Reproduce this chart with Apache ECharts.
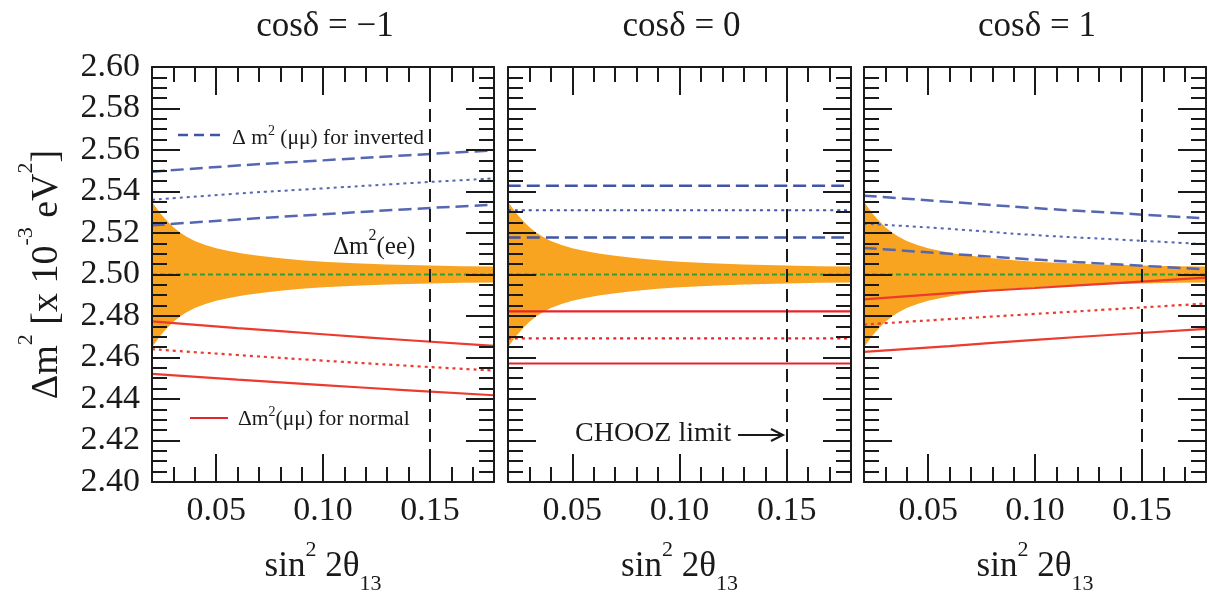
<!DOCTYPE html>
<html><head><meta charset="utf-8">
<script src="https://cdn.jsdelivr.net/npm/echarts@6/dist/echarts.min.js"></script>
<style>html,body{margin:0;padding:0;background:#fff}#c{width:1209px;height:600px}</style>
</head><body><div id="c"></div>
<script>
// ---------------- data ----------------
const panelTitles = ['cosδ = −1', 'cosδ = 0', 'cosδ = 1'];
const xMin = 0.02, xMax = 0.18;
const yMin = 2.40, yMax = 2.60;
const xTickValues = [0.05, 0.10, 0.15];
const choozLimit = 0.15;
const centralValue = 2.50;

// Δm²(ee) uncertainty band (half width around 2.50), same in all panels
const bandX    = [0.020, 0.022, 0.024, 0.026, 0.028, 0.030, 0.033, 0.036, 0.040, 0.045, 0.050, 0.056, 0.063, 0.070, 0.080, 0.090, 0.100, 0.115, 0.130, 0.150, 0.165, 0.180];
const bandHalf = [0.0350, 0.0322, 0.0294, 0.0270, 0.0248, 0.0228, 0.0204, 0.0183, 0.0162, 0.0142, 0.0127, 0.0113, 0.0100, 0.0090, 0.0078, 0.0069, 0.0062, 0.0054, 0.0048, 0.0043, 0.0040, 0.0038];

const lineX = [0.02, 0.06, 0.10, 0.14, 0.18];
// cosδ = −1
const invHighM = [2.5495, 2.5525, 2.5550, 2.5575, 2.5598];
const invMidM  = [2.5360, 2.5390, 2.5415, 2.5440, 2.5463];
const invLowM  = [2.5237, 2.5265, 2.5290, 2.5315, 2.5336];
const norHighM = [2.4774, 2.4742, 2.4712, 2.4683, 2.4656];
const norMidM  = [2.4640, 2.4612, 2.4585, 2.4560, 2.4537];
const norLowM  = [2.4521, 2.4493, 2.4467, 2.4442, 2.4418];
// cosδ = 0
const invHigh0 = [2.5428, 2.5428, 2.5428, 2.5428, 2.5428];
const invMid0  = [2.5310, 2.5310, 2.5310, 2.5310, 2.5310];
const invLow0  = [2.5178, 2.5178, 2.5178, 2.5178, 2.5178];
const norHigh0 = [2.4822, 2.4822, 2.4822, 2.4822, 2.4822];
const norMid0  = [2.4692, 2.4692, 2.4692, 2.4692, 2.4692];
const norLow0  = [2.4571, 2.4571, 2.4571, 2.4571, 2.4571];
// cosδ = 1
const invHighP = [2.5380, 2.5350, 2.5320, 2.5295, 2.5270];
const invMidP  = [2.5245, 2.5220, 2.5190, 2.5168, 2.5146];
const invLowP  = [2.5128, 2.5100, 2.5072, 2.5048, 2.5025];
const norHighP = [2.4880, 2.4910, 2.4935, 2.4960, 2.4985];
const norMidP  = [2.4759, 2.4785, 2.4810, 2.4835, 2.4860];
const norLowP  = [2.4627, 2.4655, 2.4685, 2.4712, 2.4738];

// ---------------- style / layout ----------------
const SERIF = 'Liberation Serif';
const INK = '#1a1a1a';
const ORANGE = '#f8a420';
const GREEN = '#3a9a35';
const BLUE = '#5566b2';
const BLUE0 = '#3f55a6';
const RED = '#ec3a2e';
const RED0 = '#e8242a';

const grids = [
  {left: 152, top: 67, width: 342, height: 421},
  {left: 508, top: 67, width: 343, height: 421},
  {left: 864, top: 67, width: 342, height: 421}
];
const panels = [
  {inv: [invHighM, invMidM, invLowM], nor: [norHighM, norMidM, norLowM], blue: BLUE, red: RED},
  {inv: [invHigh0, invMid0, invLow0], nor: [norHigh0, norMid0, norLow0], blue: BLUE0, red: RED0},
  {inv: [invHighP, invMidP, invLowP], nor: [norHighP, norMidP, norLowP], blue: BLUE, red: RED}
];

const pair = (xs, ys) => xs.map((x, i) => [x, ys[i]]);
const tickLine = {color: INK, width: 2};

const xNameRich = {
  m: {fontFamily: SERIF, fontSize: 35, color: INK, verticalAlign: 'middle'},
  s: {fontFamily: SERIF, fontSize: 22, color: INK, verticalAlign: 'middle', padding: [0, 0, 34, 0]},
  b: {fontFamily: SERIF, fontSize: 22, color: INK, verticalAlign: 'middle', padding: [34, 0, 0, 0]}
};
const yNameRich = {
  m: {fontFamily: SERIF, fontSize: 38, color: INK, verticalAlign: 'middle'},
  s: {fontFamily: SERIF, fontSize: 22, color: INK, verticalAlign: 'middle', padding: [0, 0, 42, 0]}
};

// band polygon drawn through the axes' own scales
function bandRenderItem(params, api) {
  if (params.dataIndex !== 0) return null;
  const n = bandX.length;
  const pts = [];
  for (let k = 0; k < n; k++) pts.push(api.coord([api.value(0, k), api.value(1, k)]));
  for (let k = n - 1; k >= 0; k--) pts.push(api.coord([api.value(0, k), api.value(2, k)]));
  return {type: 'polygon', shape: {points: pts},
    style: {fill: ORANGE, stroke: null}};
}

const xAxes = [], yAxes = [], series = [];
grids.forEach((g, i) => {
  const base = {gridIndex: i, type: 'value', min: xMin, max: xMax, z: 10, splitLine: {show: false}};
  xAxes.push(Object.assign({}, base, {
    position: 'bottom',
    axisLine: {show: true, onZero: false, lineStyle: tickLine},
    axisTick: {show: true, inside: true, length: 28, customValues: xTickValues, lineStyle: tickLine},
    axisLabel: {show: true, customValues: xTickValues, formatter: v => v.toFixed(2),
      fontFamily: SERIF, fontSize: 34, color: INK, margin: 12},
    name: '{m|sin}{s|2}{m| 2θ}{b|13}', nameLocation: 'middle', nameGap: 57,
    nameTextStyle: {fontFamily: SERIF, fontSize: 35, color: INK, rich: xNameRich}
  }));
  xAxes.push(Object.assign({}, base, {
    position: 'bottom', interval: 0.01,
    axisLine: {show: false, onZero: false},
    axisTick: {show: true, inside: true, length: 15, lineStyle: tickLine},
    axisLabel: {show: false}
  }));
  xAxes.push(Object.assign({}, base, {
    position: 'top',
    axisLine: {show: true, onZero: false, lineStyle: tickLine},
    axisTick: {show: true, inside: true, length: 28, customValues: xTickValues, lineStyle: tickLine},
    axisLabel: {show: false}
  }));
  xAxes.push(Object.assign({}, base, {
    position: 'top', interval: 0.01,
    axisLine: {show: false, onZero: false},
    axisTick: {show: true, inside: true, length: 15, lineStyle: tickLine},
    axisLabel: {show: false}
  }));

  const ybase = {gridIndex: i, type: 'value', min: yMin, max: yMax, interval: 0.02, z: 10,
    splitLine: {show: false}, minorSplitLine: {show: false},
    axisLine: {show: true, onZero: false, lineStyle: tickLine},
    axisTick: {show: true, inside: true, length: 28, lineStyle: tickLine},
    minorTick: {show: true, splitNumber: 4, length: 15, lineStyle: tickLine}};
  yAxes.push(Object.assign({}, ybase, {
    position: 'left',
    axisLabel: {show: i === 0, formatter: v => v.toFixed(2), fontFamily: SERIF, fontSize: 34, color: INK, margin: 12},
    name: i === 0 ? '{m|Δm}{s|2}{m| [x 10}{s|-3}{m| eV}{s|2}{m|]}' : '',
    nameLocation: 'middle', nameRotate: 90, nameGap: 73,
    nameTextStyle: {fontFamily: SERIF, fontSize: 38, color: INK, rich: yNameRich}
  }));
  yAxes.push(Object.assign({}, ybase, {position: 'right', axisLabel: {show: false}}));

  const xi = i * 4, yi = i * 2;
  series.push({type: 'custom', xAxisIndex: xi, yAxisIndex: yi, silent: true, clip: true, z: 1,
    data: bandX.map((x, k) => [x, centralValue + bandHalf[k], centralValue - bandHalf[k]]),
    encode: {x: 0, y: [1, 2]},
    renderItem: bandRenderItem});
  series.push({type: 'line', xAxisIndex: xi, yAxisIndex: yi, silent: true,
    data: [[xMin, centralValue], [xMax, centralValue]], symbol: 'none',
    lineStyle: {color: GREEN, width: 2, type: [5, 3]}, z: 3,
    markLine: {silent: true, symbol: 'none', label: {show: false}, animation: false,
      lineStyle: {color: INK, width: 2, type: [13, 7]}, data: [{xAxis: choozLimit}]}});
  const p = panels[i];
  const invTypes = [[13, 6], [3, 4], [13, 6]];
  const invWidths = [2.5, 2, 2.5];
  p.inv.forEach((ys, k) => series.push({type: 'line', xAxisIndex: xi, yAxisIndex: yi, silent: true,
    data: pair(lineX, ys), symbol: 'none', smooth: true,
    lineStyle: {color: p.blue, width: invWidths[k], type: invTypes[k]}, z: 4}));
  const norTypes = ['solid', [3, 4], 'solid'];
  p.nor.forEach((ys, k) => series.push({type: 'line', xAxisIndex: xi, yAxisIndex: yi, silent: true,
    data: pair(lineX, ys), symbol: 'none', smooth: true,
    lineStyle: {color: p.red, width: 2.2, type: norTypes[k]}, z: 4}));
});

// ---------------- annotations ----------------
const graphic = [];
grids.forEach((g, i) => {
  graphic.push({type: 'text', x: g.left + g.width / 2 + 2, y: 27, z: 20,
    style: {text: panelTitles[i], fill: INK, font: '35px "Liberation Serif"', textAlign: 'center', textVerticalAlign: 'middle'}});
});
const legRich = {m: {fontFamily: SERIF, fontSize: 21.5, verticalAlign: 'middle'},
                 s: {fontFamily: SERIF, fontSize: 14, verticalAlign: 'middle', padding: [0, 0, 14, 0]}};
graphic.push({type: 'line', z: 20, shape: {x1: 178, y1: 135, x2: 220, y2: 135},
  style: {stroke: BLUE0, lineWidth: 2.5, lineDash: [10, 6]}});
graphic.push({type: 'text', x: 232, y: 138, z: 20, style: {
  text: '{m|Δ m}{s|2}{m| (μμ) for inverted}', fill: INK, textAlign: 'left', textVerticalAlign: 'middle',
  rich: legRich}});
graphic.push({type: 'line', z: 20, shape: {x1: 190, y1: 418, x2: 228, y2: 418},
  style: {stroke: RED0, lineWidth: 2.2}});
graphic.push({type: 'text', x: 238, y: 419, z: 20, style: {
  text: '{m|Δm}{s|2}{m|(μμ) for normal}', fill: INK, textAlign: 'left', textVerticalAlign: 'middle',
  rich: legRich}});
graphic.push({type: 'text', x: 333, y: 247, z: 20, style: {
  text: '{m|Δm}{s|2}{m|(ee)}', fill: INK, textAlign: 'left', textVerticalAlign: 'middle',
  rich: {m: {fontFamily: SERIF, fontSize: 25, verticalAlign: 'middle'},
         s: {fontFamily: SERIF, fontSize: 16, verticalAlign: 'middle', padding: [0, 0, 22, 0]}}}});
graphic.push({type: 'text', x: 575, y: 434, z: 20, style: {
  text: 'CHOOZ limit', fill: INK, font: '28px "Liberation Serif"', textAlign: 'left', textVerticalAlign: 'middle'}});
graphic.push({type: 'line', z: 20, shape: {x1: 738, y1: 435, x2: 782, y2: 435}, style: {stroke: INK, lineWidth: 2}});
graphic.push({type: 'polyline', z: 20, shape: {points: [[771, 429], [783, 435], [771, 441]]},
  style: {stroke: INK, lineWidth: 2, fill: null}});

const chart = echarts.init(document.getElementById('c'));
chart.setOption({
  animation: false,
  backgroundColor: '#ffffff',
  textStyle: {fontFamily: SERIF},
  grid: grids,
  xAxis: xAxes,
  yAxis: yAxes,
  series: series,
  graphic: graphic
});
</script></body></html>
